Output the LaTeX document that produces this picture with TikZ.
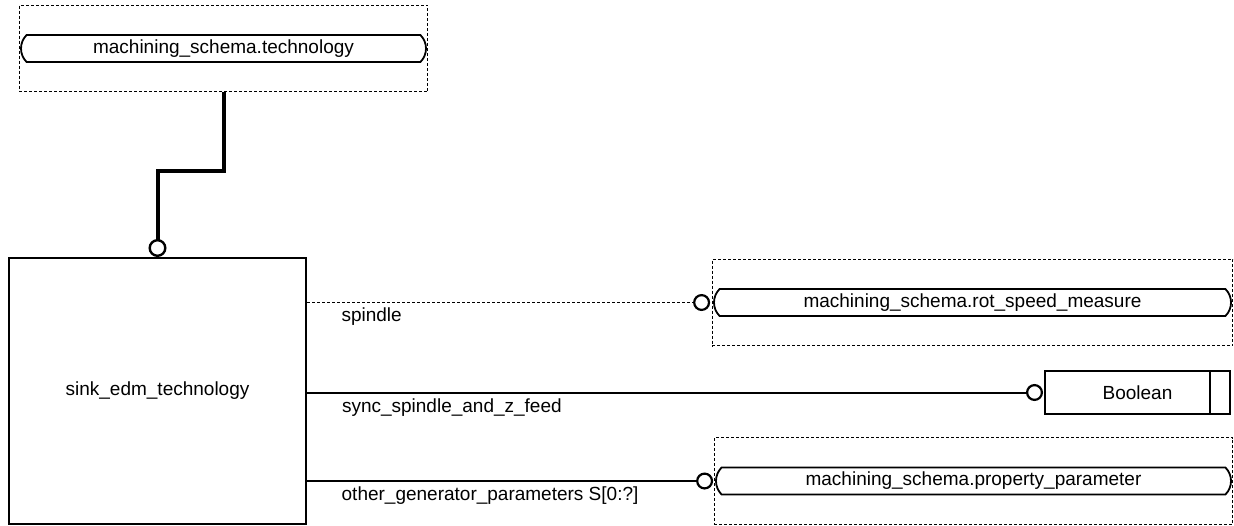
\documentclass[tikz,border=0pt]{standalone}
\usepackage{fontspec}
\setmainfont{Liberation Sans}
\usetikzlibrary{arrows.meta, shapes.misc, fit, positioning}

\tikzset{
  relring/.tip={Circle[open, length=17pt, width=17pt, line width=2.2pt]},
  superring/.tip={Circle[open, length=18pt, width=18pt, line width=2.4pt]},
}

\begin{document}
\begin{tikzpicture}[x=1pt, y=-1pt, every node/.style={font=\fontsize{19}{22}\selectfont},
  entity/.style={draw, line width=2pt, inner sep=0pt},
  typeref/.style={draw, rounded rectangle, rounded rectangle arc length=90, line width=1.8pt, minimum height=27pt, inner sep=0pt},
  schemabox/.style={draw, dash pattern=on 3pt off 2pt, line width=0.9pt, inner xsep=1pt, inner ysep=29pt},
  simpletype/.style={draw, line width=2pt, minimum width=185pt, minimum height=43pt, inner sep=0pt,
    path picture={\draw[line width=2pt] ([xshift=-20pt]path picture bounding box.north east) -- ([xshift=-20pt]path picture bounding box.south east);}},
  attrlabel/.style={anchor=north west, inner sep=0pt, xshift=34pt, yshift=-5pt},
  optattr/.style={line width=1pt, dash pattern=on 3pt off 2pt, -{relring}},
  attr/.style={line width=1.3pt, -{relring}},
]
  \useasboundingbox (0,0) rectangle (1234,525);

  % entity and referenced types
  \node[entity, minimum width=297pt, minimum height=266pt] (entity) at (157.5,391) {sink\_edm\_technology};
  \node[typeref, minimum width=405pt] (tech) at (223.5,48.5) {machining\_schema.technology};
  \node[typeref, minimum width=517pt] (rot) at (972.5,302.5) {machining\_schema.rot\_speed\_measure};
  \node[typeref, minimum width=515pt] (prop) at (973.5,481) {machining\_schema.property\_parameter};
  \node[simpletype] (bool) at (1137.5,392.5) {\makebox[165pt]{Boolean}\hspace{20pt}};

  % schema frames
  \node[schemabox, fit=(tech)] (techbox) {};
  \node[schemabox, fit=(rot)] (rotbox) {};
  \node[schemabox, fit=(prop)] (propbox) {};

  % supertype link
  \draw[line width=4pt, -{superring}] (techbox.south) -- ++(0,79) -| (entity.north);

  % attributes
  \draw[optattr, shorten >=3pt] (entity.east |- rot.west) -- node[attrlabel, pos=0] {spindle} (rot.west);
  \draw[attr, line width=2pt, shorten >=1pt] (entity.east |- bool.west) -- node[attrlabel, pos=0] {sync\_spindle\_and\_z\_feed} (bool.west);
  \draw[attr, shorten >=2pt] (entity.east |- prop.west) -- node[attrlabel, pos=0] {other\_generator\_parameters S[0:?]} (prop.west);
\end{tikzpicture}
\end{document}
